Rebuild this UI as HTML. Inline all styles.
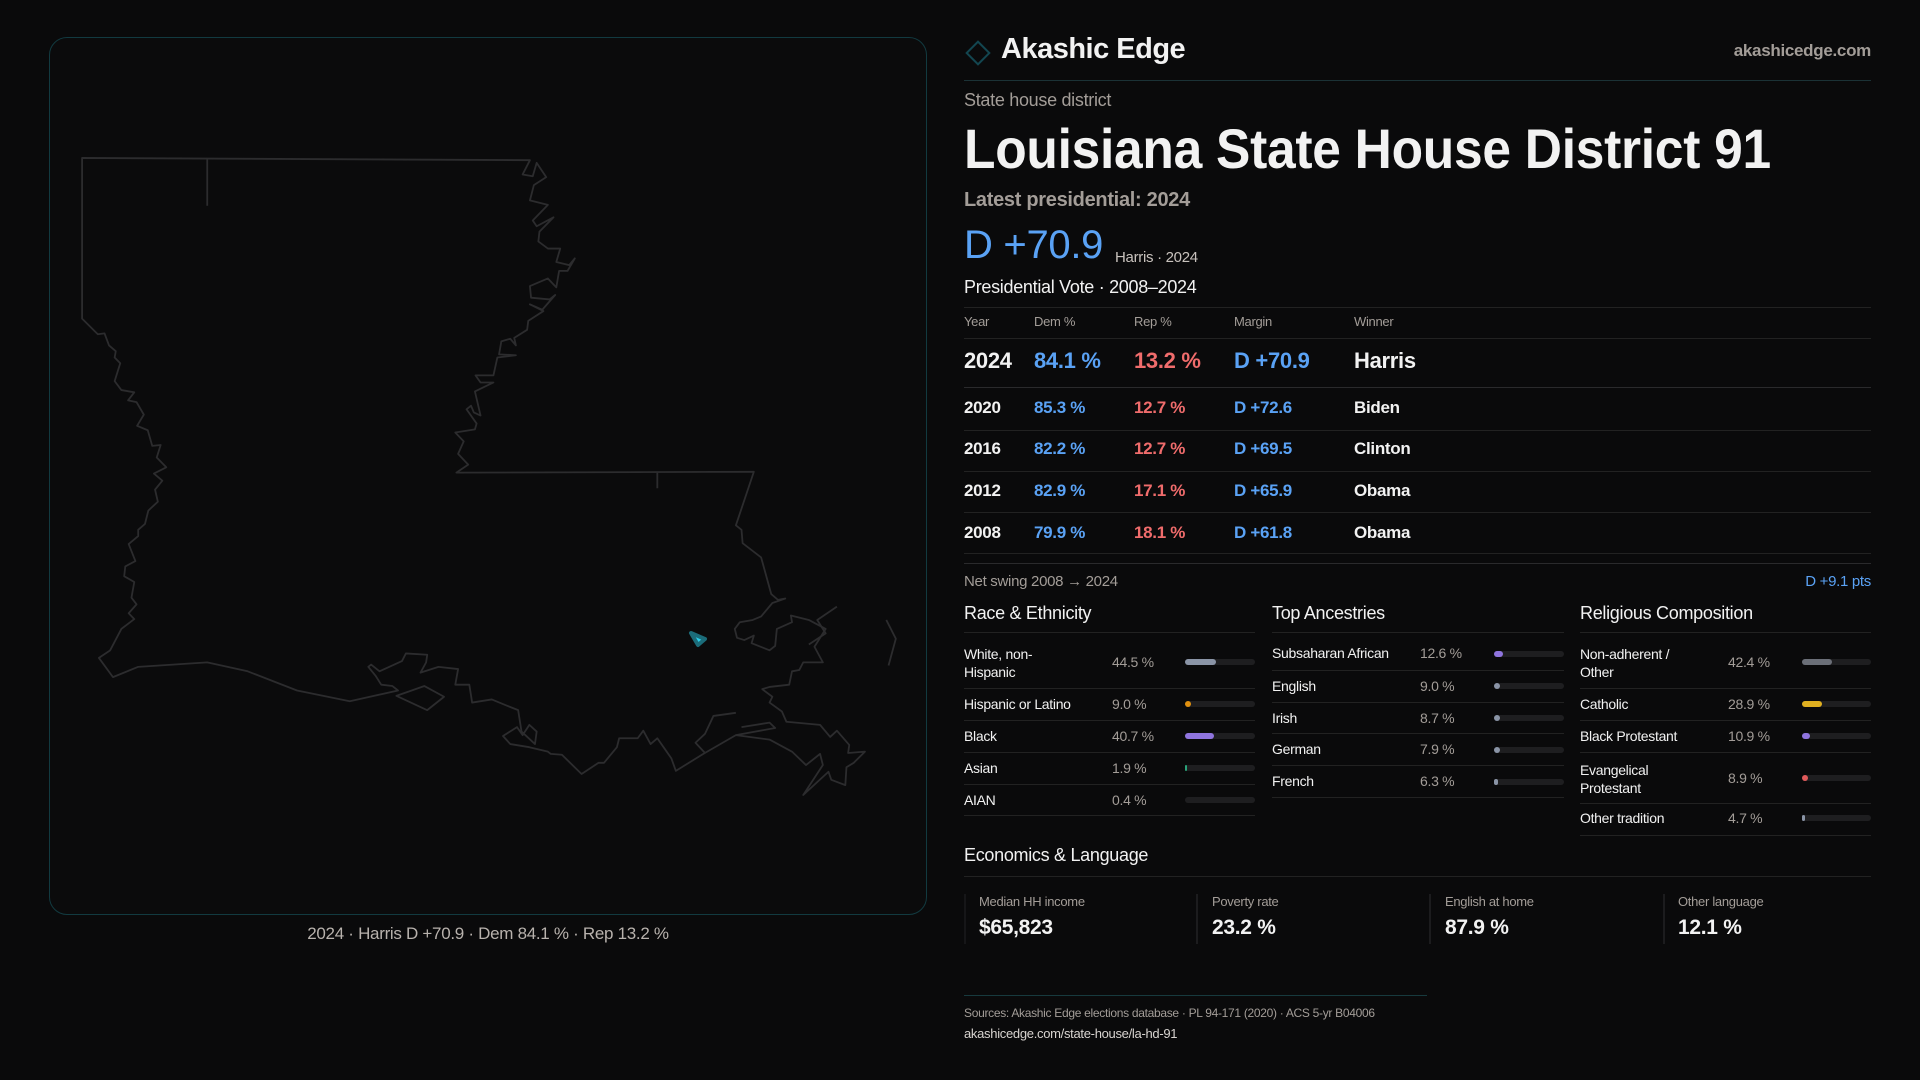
<!DOCTYPE html>
<html><head><meta charset="utf-8"><style>
*{margin:0;padding:0;box-sizing:border-box}
body{width:1920px;height:1080px;background:#0a0a0b;font-family:"Liberation Sans",sans-serif;color:#f2f2f2;position:relative;overflow:hidden;letter-spacing:-0.3px}
.a{position:absolute;white-space:nowrap}
.g{color:#a39d98}
.b{color:#5aa2f5}.r{color:#f06c6c}
.hl{position:absolute;height:1px;background:#222}
.sx{display:inline-block;transform-origin:left center}
.bar{position:absolute;height:6px;border-radius:3px;background:#1e1e20}
.bar i{position:absolute;left:0;top:0;height:6px;border-radius:3px}
</style></head><body>
<div class="a" style="left:49px;top:37px;width:878px;height:878px;border:1px solid #123a40;border-radius:18px;background:#0b0b0c"></div>
<svg class="a" style="left:0;top:0" width="960" height="1000">
<g transform="translate(40,120) scale(0.5612,0.4464)" fill="none" stroke="#2c2c2e" stroke-width="3.5" stroke-linejoin="round">
<path vector-effect="non-scaling-stroke" stroke-width="1.8" d="M75,85 L873,90 L860,122 L878,126 L885,96 L902,128 L880,146 L873,180 L905,190 L878,225 L885,238 L915,218 L890,250 L888,272 L905,288 L927,288 L920,318 L943,325 L953,310 L940,338 L925,338 L920,375 L905,355 L873,372 L875,398 L908,402 L918,392 L895,425 L873,413 L897,428 L870,450 L868,470 L845,488 L848,505 L838,490 L822,496 L818,525 L848,527 L815,532 L808,572 L776,572 L785,588 L808,588 L775,608 L785,662 L773,655 L768,640 L760,648 L778,680 L775,693 L740,700 L755,720 L745,748 L763,772 L742,790 L1272,788 L1240,908 L1250,918 L1252,948 L1285,980 L1303,1062 L1315,1075 L1328,1072 L1305,1082 L1285,1112 L1270,1120 L1247,1125 L1238,1140 L1242,1160 L1255,1165 L1272,1155 L1268,1172 L1300,1188 L1310,1178 L1313,1140 L1340,1125 L1338,1110 L1370,1120 L1400,1140 L1380,1180 L1395,1215 L1360,1215 L1353,1232 L1340,1235 L1335,1265 L1300,1270 L1287,1275 L1305,1292 L1300,1305 L1322,1325 L1330,1348 L1390,1355 L1408,1382 L1420,1368 L1442,1400 L1440,1418 L1470,1415 L1450,1440 L1437,1450 L1435,1490 L1410,1478 L1405,1460 L1360,1512 L1395,1445 L1390,1420 L1365,1445 L1340,1415 L1300,1388 L1240,1378 L1182,1420 L1133,1458 L1125,1430 L1115,1412 L1100,1385 L1088,1398 L1075,1368 L1065,1385 L1032,1385 L1028,1405 L1005,1440 L995,1440 L965,1465 L930,1422 L910,1420 L905,1415 L872,1405 L838,1398 L825,1380 L850,1360 L860,1378 L872,1355 L885,1370 L882,1398 L858,1370 L852,1322 L832,1312 L805,1298 L770,1305 L765,1265 L740,1265 L745,1230 L710,1225 L678,1238 L688,1215 L690,1198 L652,1195 L645,1212 L605,1235 L590,1220 L585,1225 L598,1245 L608,1265 L628,1268 L638,1278 L552,1302 L458,1278 L370,1235 L298,1215 L175,1225 L130,1248 L105,1205 L125,1188 L145,1140 L168,1118 L158,1105 L172,1085 L163,1070 L168,1035 L150,1022 L152,1000 L170,988 L158,950 L175,932 L175,918 L187,905 L193,875 L210,855 L205,828 L218,808 L203,792 L225,778 L208,756 L215,728 L200,730 L192,695 L173,685 L185,660 L172,632 L157,628 L168,610 L145,605 L133,585 L143,545 L133,532 L135,518 L123,505 L115,478 L103,480 L75,445 Z"/>
<path vector-effect="non-scaling-stroke" stroke-width="1.8" d="M298,88 L298,192 M1100,790 L1100,825 M1508,1120 L1525,1162 L1512,1222 M1420,1090 L1385,1120 L1400,1150 L1370,1175 M1240,1328 L1200,1335 L1185,1375 L1168,1395 L1185,1418 M1250,1360 L1300,1350 L1310,1362 L1240,1378"/>
<path vector-effect="non-scaling-stroke" stroke-width="1.8" d="M635,1290 L685,1268 L720,1292 L690,1322 Z"/>
</g>
<path d="M691,633 L705,639 L698,645 Z" fill="#2ad0ec" stroke="#1b6c7a" stroke-width="4" stroke-linejoin="round"/>
</svg>
<div class="a g" style="left:0;width:976px;top:924px;text-align:center;font-size:17px;color:#b8b2ad">2024 · Harris D +70.9 · Dem 84.1 % · Rep 13.2 %</div>

<div class="a" style="left:969px;top:44px;width:18px;height:18px;border:2px solid #134650;transform:rotate(45deg)"></div>
<div class="a" style="left:1001px;top:33px;font-size:29px;font-weight:bold;letter-spacing:-0.5px">Akashic Edge</div>
<div class="a g" style="right:49px;top:41px;font-size:17px;font-weight:bold">akashicedge.com</div>
<div class="hl" style="left:964px;width:907px;top:80px;background:#1b3236"></div>
<div class="a g" style="left:964px;top:90px;font-size:18px">State house district</div>
<div class="a" style="left:964px;top:116px;font-size:56px;font-weight:bold"><span class="sx" style="transform:scaleX(0.92)">Louisiana State House District 91</span></div>
<div class="a g" style="left:964px;top:189px;font-size:20px;font-weight:bold">Latest presidential: 2024</div>
<div class="a b" style="left:964px;top:223px;font-size:40px">D +70.9</div>
<div class="a" style="left:1115px;top:249px;font-size:15px;color:#c8c2bd">Harris · 2024</div>
<div class="a" style="left:964px;top:277px;font-size:18px">Presidential Vote · 2008–2024</div>
<div class="hl" style="left:964px;width:907px;top:307px"></div>
<div class="a g" style="left:964px;top:314px;font-size:13px">Year</div>
<div class="a g" style="left:1034px;top:314px;font-size:13px">Dem %</div>
<div class="a g" style="left:1134px;top:314px;font-size:13px">Rep %</div>
<div class="a g" style="left:1234px;top:314px;font-size:13px">Margin</div>
<div class="a g" style="left:1354px;top:314px;font-size:13px">Winner</div>
<div class="hl" style="left:964px;width:907px;top:338px"></div>
<div style="position:absolute;left:964px;top:348px;font-size:22px;font-weight:bold">
<span class="a">2024</span><span class="a b" style="left:70px">84.1 %</span><span class="a r" style="left:170px">13.2 %</span><span class="a b" style="left:270px">D +70.9</span><span class="a" style="left:390px">Harris</span></div>
<div class="hl" style="left:964px;width:907px;top:387px;background:#2a2a2c"></div>
<div style="position:absolute;left:964px;top:398px;font-size:17px;font-weight:bold">
<span class="a">2020</span><span class="a b" style="left:70px">85.3 %</span><span class="a r" style="left:170px">12.7 %</span><span class="a b" style="left:270px">D +72.6</span><span class="a" style="left:390px">Biden</span></div>
<div class="hl" style="left:964px;width:907px;top:430px"></div>
<div style="position:absolute;left:964px;top:439px;font-size:17px;font-weight:bold">
<span class="a">2016</span><span class="a b" style="left:70px">82.2 %</span><span class="a r" style="left:170px">12.7 %</span><span class="a b" style="left:270px">D +69.5</span><span class="a" style="left:390px">Clinton</span></div>
<div class="hl" style="left:964px;width:907px;top:471px"></div>
<div style="position:absolute;left:964px;top:481px;font-size:17px;font-weight:bold">
<span class="a">2012</span><span class="a b" style="left:70px">82.9 %</span><span class="a r" style="left:170px">17.1 %</span><span class="a b" style="left:270px">D +65.9</span><span class="a" style="left:390px">Obama</span></div>
<div class="hl" style="left:964px;width:907px;top:512px"></div>
<div style="position:absolute;left:964px;top:523px;font-size:17px;font-weight:bold">
<span class="a">2008</span><span class="a b" style="left:70px">79.9 %</span><span class="a r" style="left:170px">18.1 %</span><span class="a b" style="left:270px">D +61.8</span><span class="a" style="left:390px">Obama</span></div>
<div class="hl" style="left:964px;width:907px;top:553px"></div>
<div class="hl" style="left:964px;width:907px;top:563px;background:#2a2a2c"></div>
<div class="a g" style="left:964px;top:573px;font-size:15px">Net swing 2008 → 2024</div>
<div class="a b" style="right:49px;top:573px;font-size:15px">D +9.1 pts</div>

<div class="a" style="left:964px;top:603px;font-size:18px">Race &amp; Ethnicity</div>
<div class="a" style="left:1272px;top:603px;font-size:18px">Top Ancestries</div>
<div class="a" style="left:1580px;top:603px;font-size:18px">Religious Composition</div>
<div class="hl" style="left:964px;width:291px;top:632px"></div>
<div class="hl" style="left:1272px;width:292px;top:632px"></div>
<div class="hl" style="left:1580px;width:291px;top:632px"></div>

<div class="a" style="left:964px;top:645px;font-size:14px;line-height:18px;white-space:normal;width:110px">White, non-Hispanic</div>
<div class="a" style="left:964px;top:696px;font-size:14px">Hispanic or Latino</div>
<div class="a" style="left:964px;top:728px;font-size:14px">Black</div>
<div class="a" style="left:964px;top:760px;font-size:14px">Asian</div>
<div class="a" style="left:964px;top:792px;font-size:14px">AIAN</div>
<div class="a g" style="left:1112px;top:654px;font-size:14px">44.5 %</div>
<div class="a g" style="left:1112px;top:696px;font-size:14px">9.0 %</div>
<div class="a g" style="left:1112px;top:728px;font-size:14px">40.7 %</div>
<div class="a g" style="left:1112px;top:760px;font-size:14px">1.9 %</div>
<div class="a g" style="left:1112px;top:792px;font-size:14px">0.4 %</div>
<div class="bar" style="left:1185px;width:70px;top:659px"><i style="width:31px;background:#8a94a6"></i></div>
<div class="bar" style="left:1185px;width:70px;top:701px"><i style="width:6px;background:#e0900f"></i></div>
<div class="bar" style="left:1185px;width:70px;top:733px"><i style="width:29px;background:#8f74de"></i></div>
<div class="bar" style="left:1185px;width:70px;top:765px"><i style="width:2px;background:#2aa37a"></i></div>
<div class="bar" style="left:1185px;width:70px;top:797px"></div>
<div class="hl" style="left:964px;width:291px;top:688px"></div>
<div class="hl" style="left:964px;width:291px;top:720px"></div>
<div class="hl" style="left:964px;width:291px;top:752px"></div>
<div class="hl" style="left:964px;width:291px;top:784px"></div>
<div class="hl" style="left:964px;width:291px;top:815px"></div>

<div class="a" style="left:1272px;top:645px;font-size:14px">Subsaharan African</div>
<div class="a" style="left:1272px;top:678px;font-size:14px">English</div>
<div class="a" style="left:1272px;top:710px;font-size:14px">Irish</div>
<div class="a" style="left:1272px;top:741px;font-size:14px">German</div>
<div class="a" style="left:1272px;top:773px;font-size:14px">French</div>
<div class="a g" style="left:1420px;top:645px;font-size:14px">12.6 %</div>
<div class="a g" style="left:1420px;top:678px;font-size:14px">9.0 %</div>
<div class="a g" style="left:1420px;top:710px;font-size:14px">8.7 %</div>
<div class="a g" style="left:1420px;top:741px;font-size:14px">7.9 %</div>
<div class="a g" style="left:1420px;top:773px;font-size:14px">6.3 %</div>
<div class="bar" style="left:1494px;width:70px;top:651px"><i style="width:9px;background:#8f74de"></i></div>
<div class="bar" style="left:1494px;width:70px;top:683px"><i style="width:6px;background:#8a94a6"></i></div>
<div class="bar" style="left:1494px;width:70px;top:715px"><i style="width:6px;background:#8a94a6"></i></div>
<div class="bar" style="left:1494px;width:70px;top:747px"><i style="width:6px;background:#8a94a6"></i></div>
<div class="bar" style="left:1494px;width:70px;top:779px"><i style="width:4px;background:#8a94a6"></i></div>
<div class="hl" style="left:1272px;width:292px;top:670px"></div>
<div class="hl" style="left:1272px;width:292px;top:702px"></div>
<div class="hl" style="left:1272px;width:292px;top:733px"></div>
<div class="hl" style="left:1272px;width:292px;top:765px"></div>
<div class="hl" style="left:1272px;width:292px;top:797px"></div>

<div class="a" style="left:1580px;top:645px;font-size:14px;line-height:18px;white-space:normal;width:120px">Non-adherent / Other</div>
<div class="a" style="left:1580px;top:696px;font-size:14px">Catholic</div>
<div class="a" style="left:1580px;top:728px;font-size:14px">Black Protestant</div>
<div class="a" style="left:1580px;top:761px;font-size:14px;line-height:18px;white-space:normal;width:110px">Evangelical Protestant</div>
<div class="a" style="left:1580px;top:810px;font-size:14px">Other tradition</div>
<div class="a g" style="left:1728px;top:654px;font-size:14px">42.4 %</div>
<div class="a g" style="left:1728px;top:696px;font-size:14px">28.9 %</div>
<div class="a g" style="left:1728px;top:728px;font-size:14px">10.9 %</div>
<div class="a g" style="left:1728px;top:770px;font-size:14px">8.9 %</div>
<div class="a g" style="left:1728px;top:810px;font-size:14px">4.7 %</div>
<div class="bar" style="left:1802px;width:69px;top:659px"><i style="width:30px;background:#6b6f78"></i></div>
<div class="bar" style="left:1802px;width:69px;top:701px"><i style="width:20px;background:#e0b020"></i></div>
<div class="bar" style="left:1802px;width:69px;top:733px"><i style="width:8px;background:#8f74de"></i></div>
<div class="bar" style="left:1802px;width:69px;top:775px"><i style="width:6px;background:#e05a5a"></i></div>
<div class="bar" style="left:1802px;width:69px;top:815px"><i style="width:3px;background:#8a94a6"></i></div>
<div class="hl" style="left:1580px;width:291px;top:688px"></div>
<div class="hl" style="left:1580px;width:291px;top:720px"></div>
<div class="hl" style="left:1580px;width:291px;top:752px"></div>
<div class="hl" style="left:1580px;width:291px;top:803px"></div>
<div class="hl" style="left:1580px;width:291px;top:835px"></div>

<div class="a" style="left:964px;top:845px;font-size:18px">Economics &amp; Language</div>
<div class="hl" style="left:964px;width:907px;top:876px"></div>
<div class="a" style="left:964px;top:894px;width:2px;height:50px;background:#161618"></div>
<div class="a" style="left:1196px;top:894px;width:2px;height:50px;background:#1c1c1e"></div>
<div class="a" style="left:1429px;top:894px;width:2px;height:50px;background:#1c1c1e"></div>
<div class="a" style="left:1663px;top:894px;width:2px;height:50px;background:#1c1c1e"></div>
<div class="a g" style="left:979px;top:894px;font-size:13px">Median HH income</div>
<div class="a g" style="left:1212px;top:894px;font-size:13px">Poverty rate</div>
<div class="a g" style="left:1445px;top:894px;font-size:13px">English at home</div>
<div class="a g" style="left:1678px;top:894px;font-size:13px">Other language</div>
<div class="a" style="left:979px;top:916px;font-size:21px;font-weight:bold">$65,823</div>
<div class="a" style="left:1212px;top:916px;font-size:21px;font-weight:bold">23.2 %</div>
<div class="a" style="left:1445px;top:916px;font-size:21px;font-weight:bold">87.9 %</div>
<div class="a" style="left:1678px;top:916px;font-size:21px;font-weight:bold">12.1 %</div>

<div class="hl" style="left:964px;width:463px;top:995px;background:#173a3e"></div>
<div class="a g" style="left:964px;top:1006px;font-size:12px">Sources: Akashic Edge elections database · PL 94-171 (2020) · ACS 5-yr B04006</div>
<div class="a" style="left:964px;top:1026px;font-size:13px;color:#d8d4d0">akashicedge.com/state-house/la-hd-91</div>
</body></html>
